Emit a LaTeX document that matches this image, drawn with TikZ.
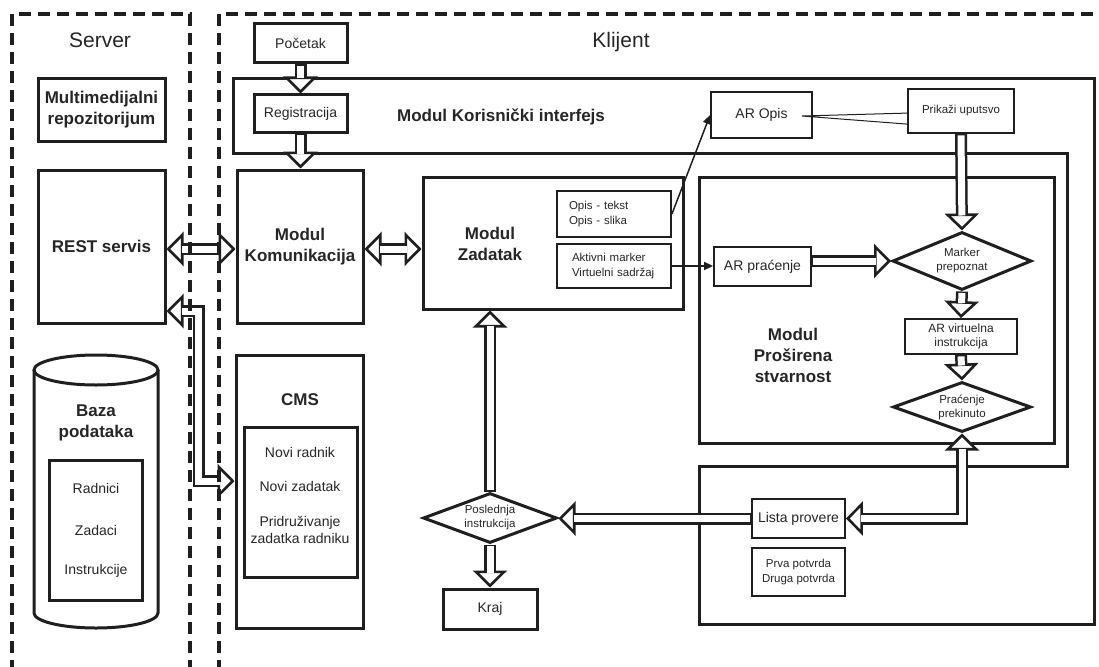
\documentclass[tikz,border=0pt]{standalone}
\usepackage{fontspec}
\setmainfont{Liberation Sans}
\usetikzlibrary{arrows.meta, shapes.geometric, calc}
\definecolor{ink}{gray}{0.12}
\definecolor{txt}{gray}{0.15}

\tikzset{
  frame/.style={draw=ink, line width=3pt},
  box/.style={draw=ink, line width=3pt, inner sep=0pt, align=center, text=txt},
  subbox/.style={draw=ink, line width=1.8pt, inner sep=0pt, align=center, text=txt},
  lbl/.style={inner sep=0pt, align=center, text=txt},
  head/.style={font=\fontsize{17}{21}\selectfont\bfseries},
  big/.style={font=\fontsize{21}{25}\selectfont},
  mid/.style={font=\fontsize{14}{17}\selectfont},
  small/.style={font=\fontsize{11.5}{15.5}\selectfont},
  decision/.style={diamond, draw=ink, line width=3pt, inner sep=0pt, align=center,
    text=txt, font=\fontsize{11.5}{14}\selectfont},
  zone/.style={draw=ink, line width=4pt, dash pattern=on 12pt off 7pt},
  hollow/.style={draw=ink, line width=12pt,
    -{Triangle[fill=white, length=17pt, width=34pt, line width=2.6pt]},
    postaction={draw=white, line width=7pt, arrows=-, shorten >=15pt, shorten <=1.5pt}},
  hollowboth/.style={draw=ink, line width=12pt,
    {Triangle[fill=white, length=17pt, width=34pt, line width=2.6pt]}-{Triangle[fill=white, length=17pt, width=34pt, line width=2.6pt]},
    postaction={draw=white, line width=7pt, arrows=-, shorten >=15pt, shorten <=15pt}},
  thinarrow/.style={draw=ink, line width=1.5pt, -{Triangle[length=9pt, width=8pt]}},
}

\begin{document}
\begin{tikzpicture}[x=1pt, y=-1pt]
\useasboundingbox (0,0) rectangle (1099,666);

% zone labels
\node[lbl, big, anchor=base] (srv) at (100,48) {Server};
\node[lbl, big, anchor=base] (kli) at (621,48) {Klijent};

% ---------- server side ----------
\node[box, head, minimum width=127pt, minimum height=62pt] (mmr) at (101.5,110) {Multimedijalni\\repozitorijum};
\node[box, head, minimum width=127pt, minimum height=153pt] (rest) at (101.5,246.5) {REST servis};

% database cylinder
\draw[frame] (34,370) -- (34,613) arc[start angle=180, end angle=360, x radius=62pt, y radius=15pt] -- (158,370);
\draw[frame] (96,370) ellipse [x radius=62pt, y radius=15pt];
\node[lbl, head] (baza) at (96,423) {Baza\\podataka};
\node[box, minimum width=93pt, minimum height=140pt] (bazaIn) at (95.5,530) {};
\node[lbl, mid] (radnici) at (96,488) {Radnici};
\node[lbl, mid] (zadaci) at (96,530) {Zadaci};
\node[lbl, mid] (instr) at (96,571) {Instrukcije};

% ---------- client side ----------
\node[box, mid, minimum width=93pt, minimum height=39pt] (start) at (300.5,43.5) {Početak};

% user interface module outline
\draw[frame] (233,79) -- (1094,79) -- (1094,624) -- (699,624) -- (699,466)
  -- (1067,466) -- (1067,153) -- (233,153) -- cycle;
\node[lbl, head] (ui) at (501,117) {Modul Korisnički interfejs};
\node[box, mid, minimum width=93pt, minimum height=37pt] (reg) at (300.5,113.5) {Registracija};

\node[box, head, minimum width=126pt, minimum height=153pt] (kom) at (300,246.5) {Modul\\Komunikacija};

% CMS
\node[box, minimum width=127pt, minimum height=273pt] (cms) at (299.5,491.5) {};
\node[lbl, head] (cmsT) at (300,400) {CMS};
\node[box, minimum width=113pt, minimum height=150pt] (cmsIn) at (300.5,502) {};
\node[lbl, mid] (noviR) at (300,452) {Novi radnik};
\node[lbl, mid] (noviZ) at (300,486) {Novi zadatak};
\node[lbl, mid] (pridr) at (300,529.5) {Pridruživanje\\zadatka radniku};

% task module
\node[box, minimum width=260pt, minimum height=132pt] (zad) at (553,243) {};
\node[lbl, head] (zadT) at (490,243.5) {Modul\\Zadatak};
\node[subbox, small, align=left, text width=90pt, inner xsep=12pt, minimum height=46pt] (opis) at (614,214) {Opis - tekst\\Opis - slika};
\node[subbox, small, align=left, text width=84pt, inner xsep=15pt, minimum height=44pt] (aktiv) at (614,266) {Aktivni marker\\Virtuelni sadržaj};

\node[subbox, mid, minimum width=101pt, minimum height=46pt] (arOpis) at (761.5,115) {AR Opis};
\node[subbox, small, minimum width=106pt, minimum height=44pt] (prikazi) at (961,111) {Prikaži uputsvo};

% augmented reality module
\node[box, minimum width=355pt, minimum height=266pt] (ar) at (876.5,310) {};
\node[lbl, head] (arT) at (793,355.5) {Modul\\Proširena\\stvarnost};
\node[subbox, mid, minimum width=97pt, minimum height=39pt] (arPrac) at (762.5,266.5) {AR praćenje};
\node[decision, minimum width=139pt, minimum height=58pt, aspect=2.4] (marker) at (962,261) {Marker\\prepoznat};
\node[subbox, font=\fontsize{12}{14}\selectfont, minimum width=112pt, minimum height=35pt] (arVirt) at (961,336.5) {AR virtuelna\\instrukcija};
\node[decision, minimum width=138pt, minimum height=50pt, aspect=2.76] (prekid) at (962,407) {Praćenje\\prekinuto};

% checklist and end
\node[subbox, mid, minimum width=93pt, minimum height=39pt] (lista) at (798.5,518.5) {Lista provere};
\node[subbox, small, minimum width=93pt, minimum height=48pt] (potvrde) at (798.5,572) {Prva potvrda\\Druga potvrda};
\node[decision, minimum width=134pt, minimum height=50pt, aspect=2.68] (posl) at (490,518) {Poslednja\\instrukcija};
\node[box, mid, minimum width=94pt, minimum height=40pt] (kraj) at (490,609) {Kraj};

% ---------- connectors ----------
\coordinate (yA) at (0,249);
\coordinate (bendT) at (198.5,311);
\coordinate (bendB) at (198.5,481);

\draw[hollow] (start.south) -- (reg.north);
\draw[hollow] (reg.south) -- (reg.south |- kom.north);
\draw[hollowboth] (rest.east |- yA) -- (kom.west |- yA);
\draw[hollowboth] (kom.east |- yA) -- (zad.west |- yA);
\draw[hollowboth] (rest.east |- bendT) -- (bendT) -- (bendB) -- (cms.west |- bendB);
\draw[hollow] (posl.north) -- (posl.north |- zad.south);
\draw[hollow] (posl.south) -- (kraj.north);
\draw[hollow] (lista.west) -- (lista.west -| posl.east);
\draw[hollowboth] (lista.east) -| (prekid.south);
\draw[hollow] (prikazi.south) -- (marker.north);
\draw[hollow] (arPrac.east |- marker.west) -- (marker.west);
\draw[hollow] (marker.south) -- (arVirt.north);
\draw[hollow] (arVirt.south) -- (prekid.north);

\draw[thinarrow] (opis.east) -- (arOpis.west);
\draw[thinarrow] (aktiv.east) -- (aktiv.east -| arPrac.west);
\coordinate (wedge) at (802,116);
\draw[draw=ink, line width=1pt] ($(prikazi.north west)+(0,25)$) -- (wedge) -- ($(prikazi.north west)+(0,36)$);

% dashed zone borders
\draw[zone] (12,672) -- (12,14) -- (190,14) -- (190,672);
\draw[zone] (219,672) -- (219,14) -- (1105,14);
\end{tikzpicture}
\end{document}
